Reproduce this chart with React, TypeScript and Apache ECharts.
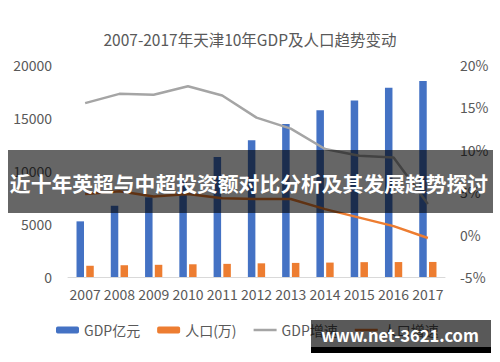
import React, { useEffect, useRef } from "react";
import * as echarts from "echarts";

const years = ["2007", "2008", "2009", "2010", "2011", "2012", "2013", "2014", "2015", "2016", "2017"];
const gdp = [5250, 6720, 7520, 9220, 11310, 12890, 14440, 15730, 16640, 17850, 18480];
const population = [1060, 1110, 1150, 1200, 1240, 1290, 1330, 1360, 1400, 1410, 1420];
const gdpGrowth = [15.5, 16.6, 16.5, 17.5, 16.4, 13.8, 12.5, 10.1, 9.3, 9.1, 3.6];
const popGrowth = [4.8, 5.1, 4.5, 4.8, 4.3, 4.2, 4.2, 3.0, 2.0, 1.0, -0.4];
const leftTicks = { min: 0, max: 20000, interval: 5000 };
const rightTicks = { min: -5, max: 20, interval: 5 };

const FONT = "Noto Sans CJK SC";
const TXT = "#595959";
const LINE_ICON = "path://M0,0L23,0L23,2.5L0,2.5Z";

export default function App() {
  const ref = useRef<HTMLDivElement>(null);
  useEffect(() => {
    document.body.style.margin = "0";
    const chart = echarts.init(ref.current!, null, { renderer: "svg" });
    chart.setOption({
      animation: false,
      backgroundColor: "#ffffff",
      textStyle: { fontFamily: FONT },
      title: {
        text: "2007-2017年天津10年GDP及人口趋势变动",
        left: "center",
        top: 26,
        textStyle: { fontFamily: FONT, fontSize: 15.5, fontWeight: "normal", color: TXT },
      },
      legend: {
        left: 51,
        top: 318,
        itemWidth: 23,
        itemHeight: 7,
        itemGap: 17,
        symbolKeepAspect: true,
        textStyle: { fontFamily: FONT, fontSize: 14, color: TXT },
        data: [
          { name: "GDP亿元" },
          { name: "人口(万)" },
          { name: "GDP增速", icon: LINE_ICON },
          { name: "人口增速", icon: LINE_ICON },
        ],
      },
      grid: { left: 68, right: 55, top: 65, bottom: 85 },
      xAxis: {
        type: "category",
        data: years,
        axisTick: { show: false },
        axisLine: { lineStyle: { color: "#d9d9d9", width: 1 } },
        axisLabel: { color: TXT, fontSize: 14, margin: 10, fontFamily: FONT, interval: 0 },
      },
      yAxis: [
        {
          type: "value",
          ...leftTicks,
          axisLine: { show: false },
          axisTick: { show: false },
          splitLine: { show: false },
          axisLabel: {
            color: TXT,
            fontSize: 14,
            margin: 16,
            fontFamily: FONT,
            formatter: (v: number) => String(v),
          },
        },
        {
          type: "value",
          ...rightTicks,
          axisLine: { show: false },
          axisTick: { show: false },
          splitLine: { show: false },
          axisLabel: { color: TXT, fontSize: 14, margin: 15, formatter: "{value}%", fontFamily: FONT },
        },
      ],
      series: [
        {
          name: "GDP亿元",
          type: "bar",
          data: gdp,
          barWidth: 7.5,
          barGap: "30%",
          itemStyle: { color: "#4472C4" },
        },
        {
          name: "人口(万)",
          type: "bar",
          data: population,
          barWidth: 7.5,
          barGap: "30%",
          itemStyle: { color: "#ED7D31" },
        },
        {
          name: "GDP增速",
          type: "line",
          yAxisIndex: 1,
          data: gdpGrowth,
          symbol: "none",
          lineStyle: { color: "#A5A5A5", width: 2.5 },
          itemStyle: { color: "#A5A5A5" },
        },
        {
          name: "人口增速",
          type: "line",
          yAxisIndex: 1,
          data: popGrowth,
          symbol: "none",
          lineStyle: { color: "#ED7D31", width: 2.5 },
          itemStyle: { color: "#ED7D31" },
        },
      ],
      graphic: [
        {
          type: "rect",
          z: 100,
          shape: { x: 8, y: 150, width: 485, height: 63 },
          style: { fill: "rgba(0,0,0,0.6)" },
        },
        {
          type: "text",
          z: 101,
          x: 249,
          y: 183,
          style: {
            text: "近十年英超与中超投资额对比分析及其发展趋势探讨",
            fill: "#ffffff",
            fontFamily: FONT,
            fontSize: 20.8,
            fontWeight: "bold",
            align: "center",
            verticalAlign: "middle",
          },
        },
        {
          type: "rect",
          z: 100,
          shape: { x: 311, y: 320, width: 180, height: 27 },
          style: { fill: "rgba(0,0,0,0.65)" },
        },
        {
          type: "rect",
          z: 100,
          shape: { x: 311, y: 347, width: 180, height: 6 },
          style: { fill: "#000000" },
        },
        {
          type: "text",
          z: 101,
          x: 400,
          y: 335,
          style: {
            text: "www.net-3621.com",
            fill: "#ffffff",
            fontFamily: FONT,
            fontSize: 16.5,
            fontWeight: "bold",
            align: "center",
            verticalAlign: "middle",
          },
        },
      ],
    });
    return () => chart.dispose();
  }, []);
  return (
    <div style={{ position: "absolute", left: 0, top: 0 }}>
      <div ref={ref} style={{ width: 500, height: 362 }} />
    </div>
  );
}
